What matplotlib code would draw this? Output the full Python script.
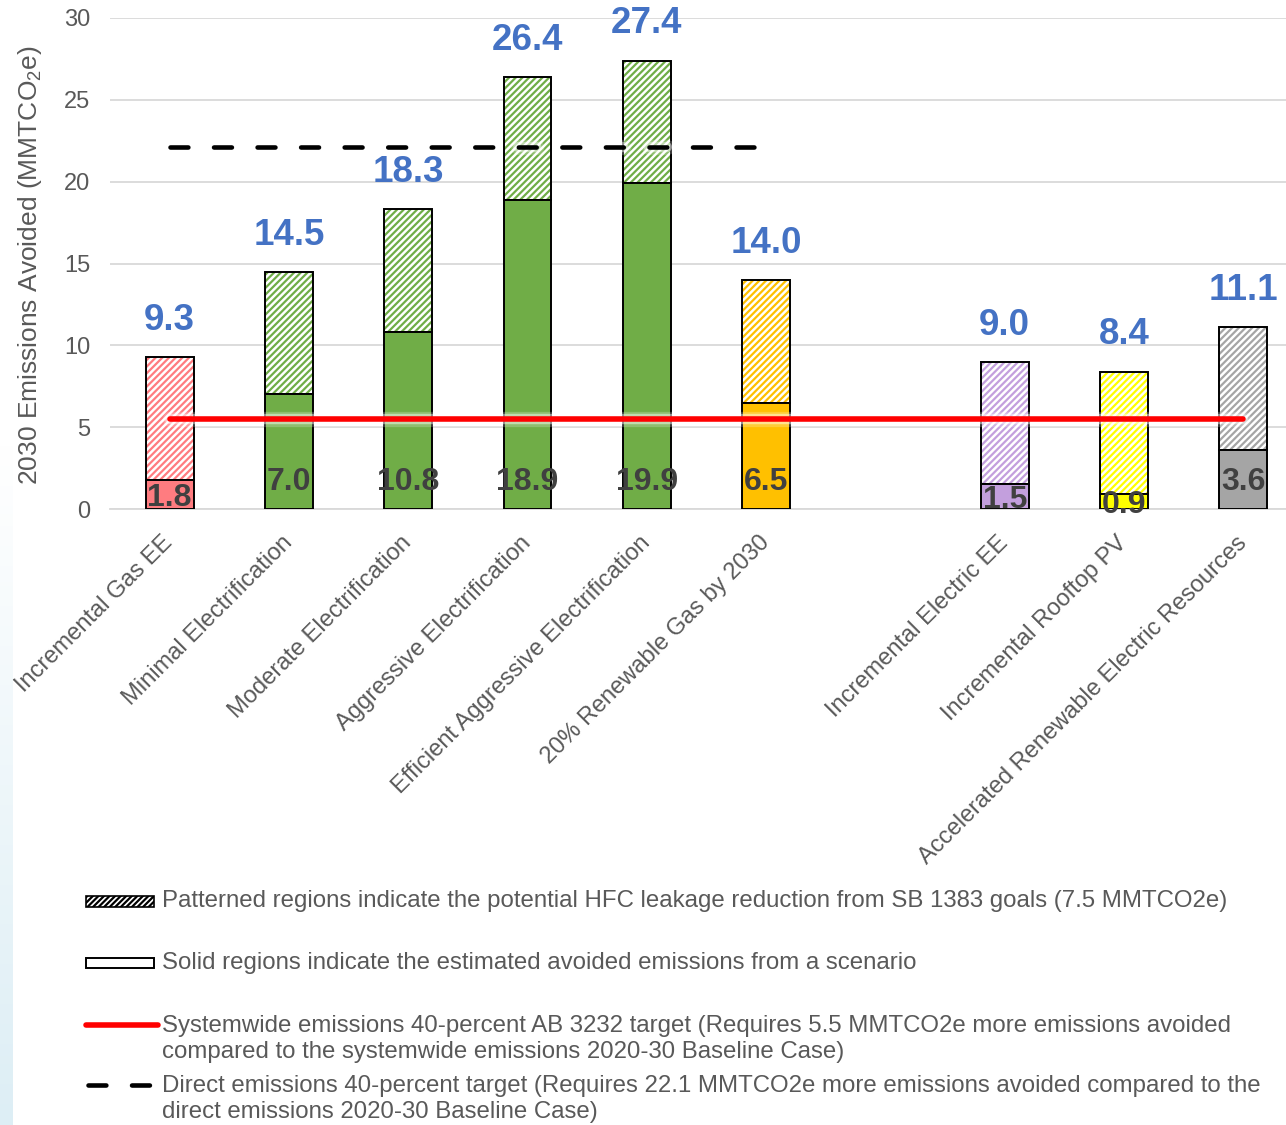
import numpy as np
import matplotlib
matplotlib.use("Agg")
import matplotlib.pyplot as plt
import matplotlib.patheffects as pe
from matplotlib.patches import Rectangle
from matplotlib.lines import Line2D

plt.rcParams["font.family"] = ["Liberation Sans", "DejaVu Sans"]
plt.rcParams["mathtext.fontset"] = "custom"
plt.rcParams["mathtext.rm"] = "Liberation Sans"
plt.rcParams["mathtext.default"] = "regular"
plt.rcParams["hatch.linewidth"] = 1.6

# ---- data -----------------------------------------------------------------
gas_scenarios = ["Incremental Gas EE", "Minimal Electrification",
                 "Moderate Electrification", "Aggressive Electrification",
                 "Efficient Aggressive Electrification",
                 "20% Renewable Gas by 2030"]
electric_scenarios = ["Incremental Electric EE", "Incremental Rooftop PV",
                      "Accelerated Renewable Electric Resources"]
categories = gas_scenarios + electric_scenarios

solid_avoided = [1.8, 7.0, 10.8, 18.9, 19.9, 6.5, 1.5, 0.9, 3.6]
total_avoided = [9.3, 14.5, 18.3, 26.4, 27.4, 14.0, 9.0, 8.4, 11.1]
bar_colors = ["#FF7C80", "#70AD47", "#70AD47", "#70AD47", "#70AD47",
              "#FFC000", "#C39FDD", "#FFFF00", "#A5A5A5"]

systemwide_target = 5.5
direct_target = 22.1
yticks = [0, 5, 10, 15, 20, 25, 30]

legend_texts = [
    "Patterned regions indicate the potential HFC leakage reduction from SB 1383 goals (7.5 MMTCO2e)",
    "Solid regions indicate the estimated avoided emissions from a scenario",
    "Systemwide emissions 40-percent AB 3232 target (Requires 5.5 MMTCO2e more emissions avoided\n"
    "compared to the systemwide emissions 2020-30 Baseline Case)",
    "Direct emissions 40-percent target (Requires 22.1 MMTCO2e more emissions avoided compared to the\n"
    "direct emissions 2020-30 Baseline Case)",
]

# ---- figure ---------------------------------------------------------------
W, H = 1286, 1125
fig = plt.figure(figsize=(W / 100, H / 100), dpi=100)
fig.patch.set_facecolor("white")

# faint blue fade along the lower left margin
bg = fig.add_axes([0, 0, 12 / W, 680 / H], zorder=-5)
grad = np.linspace(0, 1, 256).reshape(-1, 1)
bg.imshow(grad, aspect="auto", origin="upper",
          cmap=matplotlib.colors.LinearSegmentedColormap.from_list(
              "fade", ["#FFFFFF", "#DDEEF5"]), extent=[0, 1, 0, 1])
bg.set_axis_off()

# plot area: two scenario groups separated by an empty slot
x = np.r_[np.arange(len(gas_scenarios)),
          np.arange(len(electric_scenarios)) + len(gas_scenarios) + 1]
left_px, bottom_px, top_px = 110, 509, 18
unit_px = 119.3
ax = fig.add_axes([left_px / W, (H - bottom_px) / H,
                   10 * unit_px / W, (bottom_px - top_px) / H])
ax.set_xlim(-0.5, 9.5)
ax.set_ylim(0, 30)

grid_c = "#D9D9D9"
ax.set_yticks(yticks)
ax.yaxis.grid(True, color=grid_c, linewidth=1.3)
ax.set_axisbelow(True)
for s in ["top", "right", "left"]:
    ax.spines[s].set_visible(False)
ax.spines["bottom"].set_color(grid_c)
ax.spines["bottom"].set_linewidth(1.3)
ax.tick_params(axis="both", length=0)
ax.tick_params(axis="y", labelsize=17, labelcolor="#595959", pad=14)

bw = 0.40
hfc = np.array(total_avoided) - np.array(solid_avoided)
# patterned HFC portion on top of the solid scenario portion
ax.bar(x, hfc, bw, bottom=solid_avoided, color="white", edgecolor=bar_colors,
       hatch="/////", linewidth=0, zorder=2)
ax.bar(x, hfc, bw, bottom=solid_avoided, color="none", edgecolor="black",
       linewidth=1.4, zorder=3)
ax.bar(x, solid_avoided, bw, color=bar_colors, edgecolor="black",
       linewidth=1.4, zorder=3)

# target lines with a soft white halo
glow = [pe.Stroke(linewidth=11, foreground="white", alpha=0.22),
        pe.Stroke(linewidth=7.5, foreground="white", alpha=0.45),
        pe.Normal()]
ax.plot([x[0], x[-1]], [systemwide_target] * 2, color="#FF0000", linewidth=4,
        solid_capstyle="round", zorder=5, path_effects=glow)
ax.plot([x[0], x[len(gas_scenarios) - 1]], [direct_target] * 2, color="black",
        linewidth=3.3, linestyle=(0, (3.9, 5.6)), dash_capstyle="round",
        zorder=5, path_effects=glow)

# value labels: totals above bars, scenario values at the base of each bar
# (centred in the bar when it is too short to hold the label)
for xi, tot, sol in zip(x, total_avoided, solid_avoided):
    ax.annotate(f"{tot:.1f}", (xi, tot), xytext=(0, 19.5),
                textcoords="offset points", ha="center", va="baseline",
                fontsize=26.5, fontweight="bold", color="#4472C4", zorder=6)
    if sol >= 2.5:
        ax.text(xi, 1.15, f"{sol:.1f}", ha="center", va="baseline",
                fontsize=23, fontweight="bold", color="#404040", zorder=6)
    else:
        ax.text(xi, sol / 2, f"{sol:.1f}", ha="center", va="center_baseline",
                fontsize=23, fontweight="bold", color="#404040", zorder=6)

ax.set_xticks(x)
ax.set_xticklabels(categories, rotation=45, ha="right", va="center",
                   rotation_mode="anchor", fontsize=17, color="#595959")
ax.tick_params(axis="x", pad=22)

fig.text(30 / W, 1 - 265 / H, "2030 Emissions Avoided (MMTCO$_2$e)",
         rotation=90, ha="center", va="center", fontsize=19, color="#595959")

# ---- legend ---------------------------------------------------------------
def fx(px):
    return px / W


def fy(py):
    return 1 - py / H


txt_x = 162
fs_leg = 17.3
leg_c = "#595959"

fig.patches.append(Rectangle((fx(86), fy(907)), fx(154) - fx(86), fy(896) - fy(907),
                             transform=fig.transFigure, facecolor="white",
                             edgecolor="black", hatch="//////", linewidth=1.2))
fig.text(fx(txt_x), fy(901), legend_texts[0], ha="left", va="center",
         fontsize=fs_leg, color=leg_c)

fig.patches.append(Rectangle((fx(86), fy(968)), fx(154) - fx(86), fy(958) - fy(968),
                             transform=fig.transFigure, facecolor="white",
                             edgecolor="black", linewidth=1.4))
fig.text(fx(txt_x), fy(963), legend_texts[1], ha="left", va="center",
         fontsize=fs_leg, color=leg_c)

fig.lines.append(Line2D([fx(86), fx(158)], [fy(1025), fy(1025)],
                        transform=fig.transFigure, color="#FF0000", linewidth=4,
                        solid_capstyle="round"))
fig.text(fx(txt_x), fy(1039), legend_texts[2], ha="left", va="center",
         fontsize=fs_leg, color=leg_c, linespacing=1.2)

fig.lines.append(Line2D([fx(88), fx(150)], [fy(1085), fy(1085)],
                        transform=fig.transFigure, color="black", linewidth=3.3,
                        linestyle=(0, (3.9, 5.6)), dash_capstyle="round"))
fig.text(fx(txt_x), fy(1099), legend_texts[3], ha="left", va="center",
         fontsize=fs_leg, color=leg_c, linespacing=1.2)

fig.savefig("out.png", dpi=100)
